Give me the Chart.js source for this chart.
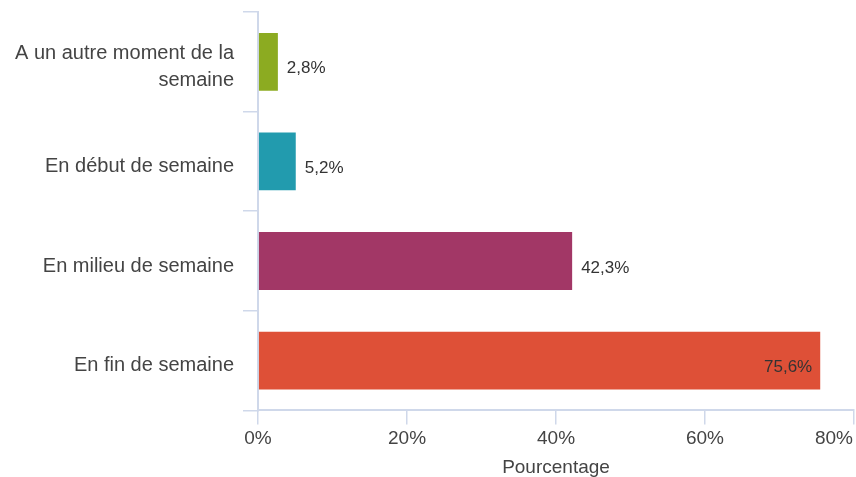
<!DOCTYPE html>
<html lang="fr">
<head>
    <meta charset="UTF-8">
    <meta name="viewport" content="width=device-width, initial-scale=1.0">
    <title>Moment de la semaine</title>
    <style>
        body {
            margin: 0;
            padding: 0;
            background-color: #ffffff;
        }

        .chart-container {
            width: 856px;
            height: 477px;
        }
    </style>
</head>
<body>

    <div class="chart-container">
        <canvas id="weekChart"></canvas>
    </div>

    <script src="https://cdn.jsdelivr.net/npm/chart.js"></script>

    <script>
        // Data
        const categories = [
            ['A un autre moment de la', 'semaine'],
            'En début de semaine',
            'En milieu de semaine',
            'En fin de semaine'
        ];
        const percentages = [2.8, 5.2, 42.3, 75.6];
        const barColors = ['#8cab21', '#229bae', '#a23766', '#de5037'];
        const xTicks = [0, 20, 40, 60, 80];
        const xTitle = 'Pourcentage';

        const fontFamily = '"Liberation Sans", Arial, sans-serif';
        const axisColor = '#cfd8ea';
        const textColor = '#444444';
        const tickFont = { size: 19, family: fontFamily };

        Chart.defaults.font.family = fontFamily;

        // French decimal format, e.g. 42,3%
        function formatPercent(value) {
            return value.toFixed(1).replace('.', ',') + '%';
        }

        // Value labels next to (or inside) each bar
        const valueLabels = {
            id: 'valueLabels',
            afterDatasetsDraw(chart) {
                const ctx = chart.ctx;
                const meta = chart.getDatasetMeta(0);
                ctx.save();
                ctx.font = '17px ' + fontFamily;
                ctx.fillStyle = '#333333';
                ctx.textBaseline = 'middle';
                meta.data.forEach((bar, i) => {
                    const text = formatPercent(percentages[i]);
                    const width = ctx.measureText(text).width;
                    if (bar.x + 8 + width > chart.chartArea.right) {
                        ctx.textAlign = 'right';
                        ctx.fillText(text, bar.x - 9, bar.y + 7);
                    } else {
                        ctx.textAlign = 'left';
                        ctx.fillText(text, bar.x + 8, bar.y + 7);
                    }
                });
                ctx.restore();
            }
        };

        // Last x tick label is pulled inside the canvas
        const lastTickLabel = {
            id: 'lastTickLabel',
            afterDraw(chart) {
                const scale = chart.scales.x;
                const last = xTicks[xTicks.length - 1];
                const ctx = chart.ctx;
                const text = last + '%';
                ctx.save();
                ctx.font = tickFont.size + 'px ' + fontFamily;
                ctx.fillStyle = textColor;
                ctx.textBaseline = 'middle';
                ctx.textAlign = 'right';
                const width = ctx.measureText(text).width;
                const x = Math.min(scale.getPixelForValue(last) + width / 2, chart.width - 3);
                const y = scale.top + 14 + 3 + tickFont.size * 1.2 / 2;
                ctx.fillText(text, x, y);
                ctx.restore();
            }
        };

        const ctx = document.getElementById('weekChart').getContext('2d');
        const weekChart = new Chart(ctx, {
            type: 'bar',
            data: {
                labels: categories,
                datasets: [{
                    label: xTitle,
                    data: percentages,
                    backgroundColor: barColors,
                    borderColor: 'rgba(255, 255, 255, 0.35)',
                    borderWidth: 1,
                    barPercentage: 0.6,
                    categoryPercentage: 1
                }]
            },
            options: {
                indexAxis: 'y',
                responsive: true,
                maintainAspectRatio: false,
                animation: false,
                layout: {
                    padding: { top: 12, right: 2, bottom: 0, left: 6 }
                },
                plugins: {
                    legend: { display: false },
                    tooltip: { enabled: false }
                },
                scales: {
                    x: {
                        min: xTicks[0],
                        max: xTicks[xTicks.length - 1],
                        afterBuildTicks(scale) {
                            scale.ticks = xTicks.map(v => ({ value: v }));
                        },
                        afterFit(scale) {
                            scale.paddingLeft = 0;
                            scale.paddingRight = 0;
                        },
                        grid: {
                            drawOnChartArea: false,
                            color: axisColor,
                            lineWidth: 1.5,
                            tickLength: 14
                        },
                        border: { color: axisColor, width: 2 },
                        ticks: {
                            color: textColor,
                            font: tickFont,
                            padding: 3,
                            maxRotation: 0,
                            callback: (value) => value === xTicks[xTicks.length - 1] ? '' : value + '%'
                        },
                        title: {
                            display: true,
                            text: xTitle,
                            color: textColor,
                            font: { size: 19, family: fontFamily },
                            padding: { top: 3, bottom: -2 }
                        }
                    },
                    y: {
                        afterFit(scale) {
                            scale.paddingTop = 0;
                            scale.paddingBottom = 0;
                        },
                        grid: {
                            offset: true,
                            drawOnChartArea: false,
                            color: axisColor,
                            lineWidth: 1.5,
                            tickLength: 15
                        },
                        border: { color: axisColor, width: 2 },
                        ticks: {
                            color: textColor,
                            font: { size: 20, family: fontFamily, lineHeight: 1.35 },
                            padding: 9,
                            labelOffset: 5,
                            autoSkip: false
                        }
                    }
                }
            },
            plugins: [valueLabels, lastTickLabel]
        });
    </script>
</body>
</html>
